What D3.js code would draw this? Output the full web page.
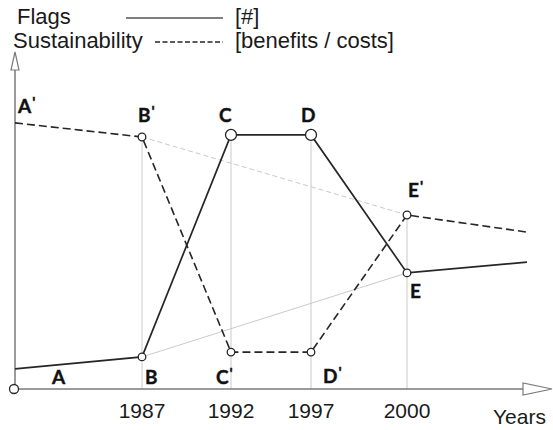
<!DOCTYPE html>
<html>
<head>
<meta charset="utf-8">
<script src="https://cdn.jsdelivr.net/npm/d3@7"></script>
<style>
  body { margin: 0; background: #fff; }
  svg { display: block; }
</style>
</head>
<body>
<svg id="chart"></svg>
<script>
// data
const years = [1980, 1987, 1992, 1997, 2000, 2004];
const tickYears = [1987, 1992, 1997, 2000];
const flags = [0.67, 1.07, 8.47, 8.47, 3.87, 4.23];
const sustainability = [8.87, 8.4, 1.23, 1.23, 5.8, 5.23];
const flagNames = ["A", "B", "C", "D", "E"];
const sustNames = ["A", "B", "C", "D", "E"];
const legendNames = ["Flags", "Sustainability"];
const legendUnits = ["[#]", "[benefits / costs]"];

var width = 553,
    height = 430;

const svg = d3.select("#chart").attr("width", width).attr("height", height);

// uneven year spacing in the original sketch, so piecewise scale
const x = d3.scaleLinear().domain(years).range([15, 142, 231, 311, 407, 527]);
const y = d3.scaleLinear().domain([0, 10]).range([389, 89]);

const x0 = x(years[0]), y0 = y(0);
const axisColor = "#7a7a7a", ink = "#262626", light = "#cacaca";

const flagPts = years.map((yr, i) => ({ yr: yr, v: flags[i] }));
const sustPts = years.map((yr, i) => ({ yr: yr, v: sustainability[i] }));

// thin verticals at the tick years
svg.append("g").selectAll("line")
    .data(tickYears)
    .enter().append("line")
    .attr("x1", d => x(d)).attr("x2", d => x(d))
    .attr("y1", d => {
        const i = years.indexOf(d);
        return y(Math.max(flags[i], sustainability[i]));
    })
    .attr("y2", y0)
    .attr("stroke", light).attr("stroke-width", 1);

// light trend lines B-E and B'-E'
const iB = years.indexOf(1987), iE = years.indexOf(2000);
svg.append("line")
    .attr("x1", x(years[iB])).attr("y1", y(flags[iB]))
    .attr("x2", x(years[iE])).attr("y2", y(flags[iE]))
    .attr("stroke", light).attr("stroke-width", 1);
svg.append("line")
    .attr("x1", x(years[iB])).attr("y1", y(sustainability[iB]))
    .attr("x2", x(years[iE])).attr("y2", y(sustainability[iE]))
    .attr("stroke", light).attr("stroke-width", 1)
    .attr("stroke-dasharray", "5,3");

// axes with hollow arrow heads
const axes = svg.append("g").attr("stroke", axisColor).attr("stroke-width", 1.5).attr("fill", "#fff");
axes.append("line").attr("x1", x0).attr("y1", y0).attr("x2", x0).attr("y2", 70);
axes.append("path").attr("d", `M${x0},52 L${x0 - 4},70 L${x0 + 4},70 Z`).attr("stroke-width", 1.2);
axes.append("line").attr("x1", x0).attr("y1", y0).attr("x2", 523).attr("y2", y0);
axes.append("path").attr("d", `M552,${y0} L523,${y0 - 6} L523,${y0 + 6} Z`).attr("stroke-width", 1.2);
axes.append("circle").attr("cx", x0 - 1).attr("cy", y0).attr("r", 4.5).attr("stroke", ink).attr("stroke-width", 1.3);

// tick labels
svg.append("g").selectAll("text")
    .data(tickYears)
    .enter().append("text")
    .attr("x", d => x(d))
    .attr("y", 418)
    .attr("text-anchor", "middle")
    .style("font-family", "'Liberation Sans', Arial, sans-serif")
    .style("font-size", "21px")
    .attr("fill", "#1a1a1a")
    .text(d => d);

svg.append("text")
    .attr("x", 493).attr("y", 424)
    .style("font-family", "'Liberation Sans', Arial, sans-serif")
    .style("font-size", "21px")
    .attr("fill", "#1a1a1a")
    .text("Years");

// series
const line = d3.line().x(d => x(d.yr)).y(d => y(d.v));

svg.append("path")
    .datum(flagPts)
    .attr("d", line)
    .attr("fill", "none").attr("stroke", ink).attr("stroke-width", 1.7);

svg.append("path")
    .datum(sustPts)
    .attr("d", line)
    .attr("fill", "none").attr("stroke", ink).attr("stroke-width", 1.6)
    .attr("stroke-dasharray", "8,4");

// markers
const markYears = tickYears;
svg.append("g").selectAll("circle")
    .data(flagPts.filter(d => markYears.includes(d.yr)))
    .enter().append("circle")
    .attr("cx", d => x(d.yr)).attr("cy", d => y(d.v))
    .attr("r", d => (d.yr === 1992 || d.yr === 1997) ? 5.5 : 3.8)
    .attr("fill", "#fff").attr("stroke", ink).attr("stroke-width", 1.3);

svg.append("g").selectAll("circle")
    .data(sustPts.filter(d => markYears.includes(d.yr)))
    .enter().append("circle")
    .attr("cx", d => x(d.yr)).attr("cy", d => y(d.v))
    .attr("r", 3.8)
    .attr("fill", "#fff").attr("stroke", ink).attr("stroke-width", 1.3);

// point labels, offsets from their point
const flagOffsets = [[37, 15], [3, 27], [-12, -13], [-10, -13], [3, 25]];
const sustOffsets = [[3, -10], [-4, -15], [-15, 32], [12, 31], [1, -18]];

function pointLabels(pts, names, offsets, prime) {
    const g = svg.append("g")
        .style("font-family", "Lato, 'Open Sans', sans-serif")
        .style("font-weight", "700")
        .style("font-size", "19px")
        .attr("fill", "#111")
        .attr("stroke", "#111").attr("stroke-width", 0.4);
    names.forEach(function(n, i) {
        const t = g.append("text")
            .attr("x", x(pts[i].yr) + offsets[i][0])
            .attr("y", y(pts[i].v) + offsets[i][1])
            .text(n);
        if (prime) {
            t.append("tspan").attr("dx", 1).attr("dy", -5)
                .style("font-size", "15px").text("'");
        }
    });
}
pointLabels(flagPts, flagNames, flagOffsets, false);
pointLabels(sustPts, sustNames, sustOffsets, true);

// legend
const legend = svg.append("g")
    .style("font-family", "'Liberation Sans', Arial, sans-serif")
    .style("font-size", "22px")
    .attr("fill", "#1a1a1a");

legendNames.forEach(function(n, i) {
    const by = 24 + i * 24;
    legend.append("text").attr("x", i === 0 ? 17 : 13).attr("y", by).text(n);
    legend.append("line")
        .attr("x1", i === 0 ? 126 : 155).attr("x2", 223)
        .attr("y1", by - 6).attr("y2", by - 6)
        .attr("stroke", i === 0 ? "#555" : ink)
        .attr("stroke-width", i === 0 ? 1.5 : 1.4)
        .attr("stroke-dasharray", i === 0 ? null : "5,2.5");
    legend.append("text").attr("x", 235).attr("y", by).text(legendUnits[i]);
});
</script>
</body>
</html>
